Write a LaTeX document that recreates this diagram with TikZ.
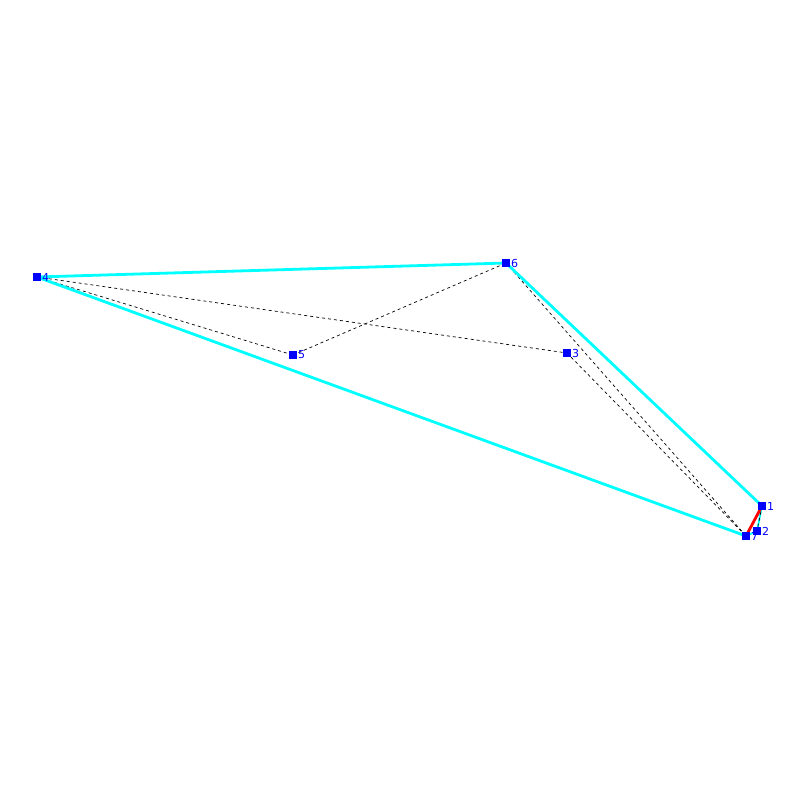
\documentclass[tikz,border=0pt]{standalone}
\usepackage{fontspec}
\setmainfont{DejaVu Sans}
\definecolor{aqua}{RGB}{0,255,255}
\definecolor{pblue}{RGB}{0,0,255}
\definecolor{pred}{RGB}{255,0,0}
\begin{document}
\begin{tikzpicture}[x=1pt,y=-1pt,
  pt/.style={fill=pblue,minimum size=8pt,inner sep=0pt,outer sep=0pt},
  lab/.style={text=pblue,font=\fontsize{11}{11}\selectfont,inner sep=0pt,anchor=west,xshift=5pt},
  hull/.style={aqua,line width=2.8pt},
  thin hull/.style={aqua,line width=1.8pt},
  dsh/.style={black,line width=0.7pt,dash pattern=on 3pt off 3pt}]
\useasboundingbox (0,0) rectangle (800,800);
\coordinate (p1) at (762,506);
\coordinate (p2) at (757,531);
\coordinate (p3) at (567,353);
\coordinate (p4) at (37,277);
\coordinate (p5) at (293,355);
\coordinate (p6) at (506,263);
\coordinate (p7) at (746,536);
% dashed edges
\draw[dsh] (p4) -- (p5);
\draw[dsh] (p5) -- (p6);
\draw[dsh] (p4) -- (p3);
\draw[dsh] (p3) -- (p7);
\draw[dsh] (p6) -- (p7);
% hull
\draw[hull] (p4) -- (p6) -- (p1);
\draw[hull] (p7) -- (p4);
\draw[thin hull] (p1) -- (p2) -- (p7);
\draw[dsh] (p1) -- (p2);
\draw[pred,line width=2.8pt] (p1) -- (p7);
% points
\foreach \i in {1,...,7} {
  \node[pt] (n\i) at (p\i) {};
  \node[lab] (l\i) at (p\i) {\i};
}
\end{tikzpicture}
\end{document}
